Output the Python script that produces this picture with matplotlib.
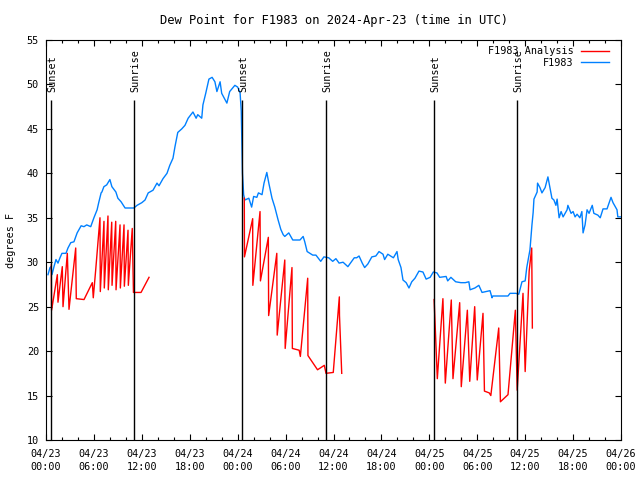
import matplotlib
matplotlib.use("Agg")
import matplotlib.pyplot as plt
from matplotlib.ticker import MultipleLocator
import numpy as np

plt.rcParams['font.family'] = 'DejaVu Sans Mono'
plt.rcParams['font.size'] = 7.3

# hours since 2024-04-23 00:00 UTC
obs_t = [0.25, 0.5, 0.63, 0.75, 1.0, 1.25, 1.5, 1.75, 2.0, 2.5, 2.75, 3.1, 3.5, 3.9, 4.4, 4.75, 5.1, 5.6,
         6.0, 6.4, 6.6, 6.9, 7.0, 7.25, 7.6, 8.0, 8.25, 8.75, 9.0, 9.4, 9.9, 11.0, 11.4, 12.0, 12.4, 12.8,
         13.4, 13.9, 14.15, 14.65, 15.15, 15.5, 15.9, 16.15, 16.5, 17.0, 17.4, 17.8, 18.4, 18.8, 19.0, 19.5,
         19.65, 20.0, 20.4, 20.8, 21.15, 21.4, 21.8, 22.0, 22.65, 23.0, 23.65, 24.0, 24.3, 24.45, 24.6, 24.75,
         24.9, 25.4, 25.75, 26.0, 26.4, 26.6, 27.05, 27.3, 27.65, 27.9, 28.3, 28.65, 29.05, 29.4, 29.7, 29.9,
         30.4, 30.9, 31.8, 32.2, 32.4, 32.7, 33.4, 33.8, 34.4, 34.8, 35.4, 35.9, 36.3, 36.7, 37.2, 37.8,
         38.2, 38.6, 38.9, 39.2, 39.6, 39.9, 40.3, 40.8, 41.3, 41.7, 42.2, 42.4, 42.8, 43.5, 43.95, 44.1,
         44.45, 44.7, 45.1, 45.45, 45.8, 46.2, 46.7, 47.2, 47.6, 48.1, 48.5, 48.95, 49.3, 50.1, 50.3, 50.6,
         50.7, 51.3, 51.95, 52.5, 52.95, 53.1, 53.7, 54.2, 54.6, 55.6, 55.85, 55.95, 57.85, 58.1, 58.85,
         59.2, 59.6, 60.0, 60.2, 60.6, 60.85, 61.0, 61.1, 61.5, 61.55, 61.85, 62.1, 62.5, 62.85, 63.1,
         63.35, 63.6, 63.85, 64.0, 64.25, 64.5, 64.75, 65.25, 65.35, 65.75, 66.0, 66.25, 66.5, 66.85,
         67.1, 67.25, 67.5, 67.75, 68.0, 68.4, 68.6, 69.1, 69.4, 69.75, 70.25, 70.75, 71.0, 71.5, 71.6, 72.0]
obs_v = [28.6, 29.4, 29.5, 28.6, 29.5, 30.3, 29.9, 30.5, 31.0, 31.0, 31.6, 32.2, 32.3, 33.3, 34.1, 34.0, 34.2, 34.0,
         35.0, 35.9, 36.7, 37.8, 37.9, 38.5, 38.7, 39.3, 38.5, 37.9, 37.2, 36.8, 36.1, 36.1, 36.4, 36.7, 37.0, 37.8,
         38.1, 38.9, 38.6, 39.4, 40.0, 40.9, 41.7, 43.0, 44.6, 45.0, 45.4, 46.2, 46.9, 46.2, 46.6, 46.2,
         47.7, 49.0, 50.6, 50.8, 50.3, 49.2, 50.3, 49.0, 47.9, 49.2, 49.9, 49.7, 49.1, 47.0, 40.0, 37.6,
         37.0, 37.2, 36.2, 37.4, 37.3, 37.8, 37.6, 38.9, 40.1, 38.9, 37.2, 36.2, 34.8, 33.7, 33.1, 32.9,
         33.3, 32.5, 32.5, 32.9, 32.3, 31.2, 30.8, 30.8, 30.1, 30.6, 30.5, 30.1, 30.4, 29.9, 30.0, 29.5,
         30.0, 30.5, 30.5, 30.7, 29.9, 29.4, 29.8, 30.6, 30.7, 31.2, 30.9, 30.3, 30.9, 30.5, 31.2, 30.3,
         29.4, 28.0, 27.7, 27.1, 27.8, 28.2, 29.0, 28.9, 28.1, 28.3, 28.9, 28.8, 28.3, 28.4, 27.9, 28.2,
         28.3, 27.8, 27.7, 27.7, 27.8, 26.9, 27.1, 27.4, 26.6, 26.8, 26.0, 26.2, 26.2, 26.5, 26.5,
         26.4, 27.8, 27.9, 29.4, 31.4, 34.2, 35.6, 37.1, 37.9, 38.9, 38.4, 37.8, 38.4, 39.6, 38.4,
         37.2, 37.0, 36.4, 37.1, 35.0, 35.7, 35.1, 35.9, 36.4, 35.5, 35.7, 35.1, 35.4, 35.0,
         35.7, 33.3, 34.2, 35.9, 35.5, 36.4, 35.5, 35.3, 35.0, 36.0, 36.0, 37.3, 36.7, 35.9, 35.1, 35.1]

# analysis runs, one list per day
ana1_t = [0.66, 0.7, 1.42, 1.5, 2.04, 2.13, 2.67, 2.88, 3.72, 3.79, 4.76, 5.8, 5.92, 6.22, 6.76, 6.8,
          7.26, 7.3, 7.76, 7.8, 8.23, 8.27, 8.73, 8.77, 9.27, 9.31, 9.77, 9.81, 10.27, 10.31, 10.8, 10.95,
          11.9, 12.9]
ana1_v = [29.7, 24.6, 28.6, 25.5, 29.5, 25.0, 31.0, 24.7, 31.6, 25.9, 25.8, 27.7, 26.0, 29.1, 35.0, 26.7,
          34.6, 27.1, 35.2, 26.9, 34.5, 27.4, 34.6, 26.9, 34.2, 27.1, 34.2, 27.3, 33.6, 27.4, 33.8, 26.6,
          26.6, 28.3]
ana2_t = [24.83, 24.85, 25.88, 25.9, 26.8, 26.85, 27.84, 27.88, 28.9, 28.95, 29.9, 29.95, 30.8, 30.85,
          31.7, 31.85, 32.77, 32.8, 34.0, 34.85, 35.06, 35.97, 36.73, 36.75, 37.03]
ana2_v = [37.2, 30.6, 34.9, 27.4, 35.7, 27.9, 32.8, 24.0, 31.0, 21.8, 30.25, 20.3, 29.4, 20.3,
          20.1, 19.4, 28.2, 19.5, 17.9, 18.4, 17.5, 17.6, 26.1, 24.0, 17.5]
ana3_t = [48.6, 49.0, 49.7, 50.0, 50.75, 50.96, 51.8, 52.0, 52.76, 53.06, 53.68, 54.0, 54.72, 54.9,
          55.5, 55.7, 56.69, 56.9, 57.85, 58.77, 59.0, 59.73, 60.0, 60.5, 60.82, 60.9]
ana3_v = [25.8, 16.9, 25.9, 16.4, 25.75, 16.9, 25.45, 16.0, 24.6, 16.6, 25.0, 16.75, 24.25, 15.5,
          15.3, 15.0, 22.6, 14.3, 15.1, 24.6, 15.6, 26.5, 17.7, 29.0, 31.6, 22.6]

sun_t = [0.63, 11.02, 24.54, 35.06, 48.59, 58.98]
sun_lbl = ['Sunset', 'Sunrise', 'Sunset', 'Sunrise', 'Sunset', 'Sunrise']

xtick_lbl = ['04/23\n00:00', '04/23\n06:00', '04/23\n12:00', '04/23\n18:00',
             '04/24\n00:00', '04/24\n06:00', '04/24\n12:00', '04/24\n18:00',
             '04/25\n00:00', '04/25\n06:00', '04/25\n12:00', '04/25\n18:00',
             '04/26\n00:00']

fig = plt.figure(figsize=(6.4, 4.8), dpi=100)
ax = fig.add_axes([46/640, 40/480, 575/640, 400/480])

ana_t = ana1_t + [np.nan] + ana2_t + [np.nan] + ana3_t
ana_v = ana1_v + [np.nan] + ana2_v + [np.nan] + ana3_v

l2, = ax.plot(obs_t, obs_v, color='#0080ff', lw=1.0)
l1, = ax.plot(ana_t, ana_v, color='#ff0000', lw=1.0)

for t, s in zip(sun_t, sun_lbl):
    ax.vlines(t, 10, 48.25, color='black', lw=1.0)
    ax.text(t + 0.15, 49.1, s, rotation=90, ha='center', va='bottom')

ax.set_xlim(0, 72)
ax.set_ylim(10, 55)
ax.xaxis.set_minor_locator(MultipleLocator(2))
ax.yaxis.set_major_locator(MultipleLocator(5))
ax.set_xticks(np.arange(0, 73, 6))
ax.set_xticklabels(xtick_lbl)
for lb in ax.get_xticklabels():
    lb.set_linespacing(1.35)
ax.tick_params(which='both', direction='in', top=True, right=True)
ax.tick_params(which='major', length=4.5, width=0.8)
ax.tick_params(axis='x', which='major', pad=6.5)
ax.tick_params(axis='y', which='major', pad=5)
ax.tick_params(which='minor', length=2.5, width=0.8)
for sp in ax.spines.values():
    sp.set_linewidth(0.8)

ax.set_title('Dew Point for F1983 on 2024-Apr-23 (time in UTC)', pad=11.5)
ax.set_ylabel('degrees F', labelpad=8)

ax.legend([l1, l2], ['F1983 Analysis', 'F1983'], loc='upper right', frameon=False,
          bbox_to_anchor=(1 - 6/575, 1.0),
          markerfirst=False, handlelength=2.8, borderaxespad=0.2, labelspacing=0.15,
          handletextpad=0.7)

plt.savefig('out.png', dpi=100)
